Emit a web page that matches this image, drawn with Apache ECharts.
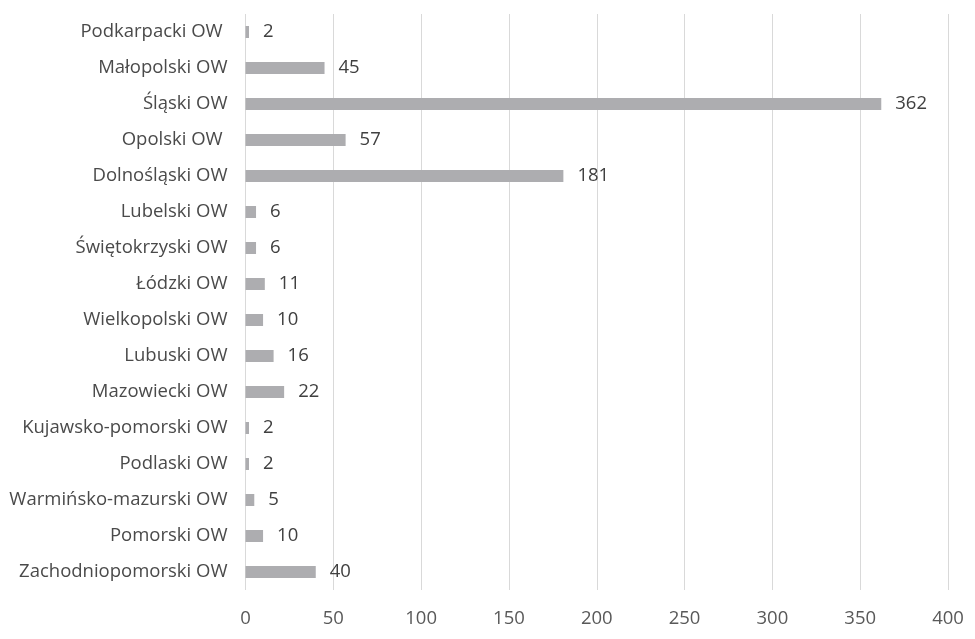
<!DOCTYPE html>
<html>
<head>
<meta charset="utf-8">
<script src="https://cdn.jsdelivr.net/npm/echarts@6/dist/echarts.min.js"></script>
<style>html,body{margin:0;padding:0;background:#fff}#c{width:975px;height:639px}</style>
</head>
<body>
<div id="c"></div>
<script>
const categories = ["Zachodniopomorski OW","Pomorski OW","Warmińsko-mazurski OW","Podlaski OW","Kujawsko-pomorski OW","Mazowiecki OW","Lubuski OW","Wielkopolski OW","Łódzki OW","Świętokrzyski OW","Lubelski OW","Dolnośląski OW","Opolski OW ","Śląski OW","Małopolski OW","Podkarpacki OW "];
const values = [40,10,5,2,2,22,16,10,11,6,6,181,57,362,45,2];
const xTicks = {min:0, max:400, interval:50};

const chart = echarts.init(document.getElementById('c'), null, {renderer:'canvas'});
const font = '"Open Sans", "Noto Sans", sans-serif';
chart.setOption({
  animation:false,
  grid:{left:245.5, right:27, top:14, bottom:49, containLabel:false},
  xAxis:{type:'value', min:xTicks.min, max:xTicks.max, interval:xTicks.interval,
    axisLine:{show:false}, axisTick:{show:false},
    splitLine:{lineStyle:{color:'#d9d9d9', width:1}},
    axisLabel:{color:'#595959', fontSize:18.5, fontFamily:font, margin:19}},
  yAxis:{type:'category', data:categories,
    axisLine:{show:false}, axisTick:{show:false},
    axisLabel:{color:'#4a4a4a', fontSize:18.5, fontFamily:font, margin:18}},
  series:[{type:'bar', data:values, barWidth:12,
    itemStyle:{color:'#adadb0'},
    label:{show:true, position:'right', distance:14, color:'#404040', fontSize:18.5, fontFamily:font}}]
});
</script>
</body>
</html>
